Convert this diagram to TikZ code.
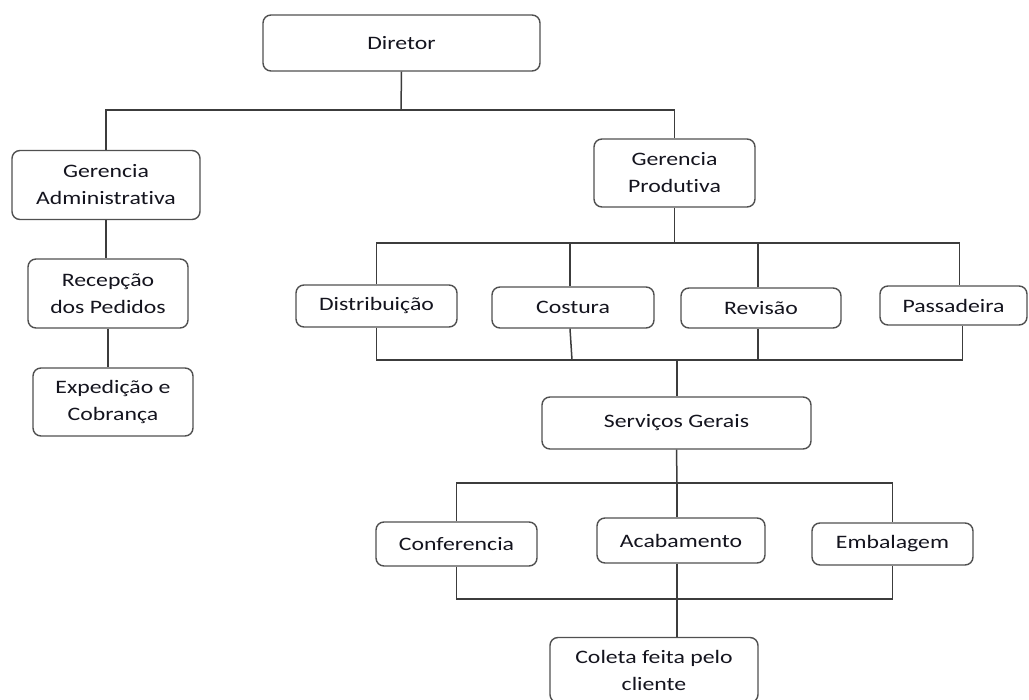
\documentclass[tikz,border=0pt]{standalone}
\usepackage{fontspec}
\setmainfont{Carlito}[FakeStretch=1.25, Ligatures={NoCommon}]
\usetikzlibrary{calc}
\definecolor{linegray}{HTML}{3C3C3C}
\definecolor{boxgray}{HTML}{505050}
\definecolor{inkcol}{HTML}{14141E}
\tikzset{
  box/.style={draw=boxgray, line width=1.4pt, rounded corners=8pt, fill=white,
    align=center, inner sep=0pt, text=inkcol,
    font=\fontsize{19}{27}\selectfont},
  link/.style={draw=linegray, line width=1.5pt}
}
\begin{document}
\begin{tikzpicture}[x=1pt, y=-1pt]
\useasboundingbox[fill=white] (0,0) rectangle (1029,700);

% organisation boxes
\node[box, minimum width=277, minimum height=56] (dir) at (401.5,43) {Diretor};
\node[box, minimum width=188, minimum height=69] (ga)  at (106,185) {Gerencia\\Administrativa};
\node[box, minimum width=161, minimum height=68] (gp)  at (674.5,173) {Gerencia\\Produtiva};
\node[box, minimum width=160, minimum height=69] (rec) at (108,293.5) {Recepção\\dos Pedidos};
\node[box, minimum width=160, minimum height=68] (exp) at (113,402) {Expedição e\\Cobrança};

\node[box, minimum width=161, minimum height=42] (dis) at (376.5,306) {Distribuição};
\node[box, minimum width=162, minimum height=41] (cos) at (573,307.5) {Costura};
\node[box, minimum width=160, minimum height=40] (rev) at (761,308) {Revisão};
\node[box, minimum width=147, minimum height=39] (pas) at (953.5,305.5) {Passadeira};

\node[box, minimum width=269, minimum height=52] (sg)  at (676.5,423) {Serviços Gerais};

\node[box, minimum width=161, minimum height=44] (con) at (456.5,544) {Conferencia};
\node[box, minimum width=168, minimum height=45] (aca) at (681,540.5) {Acabamento};
\node[box, minimum width=161, minimum height=42] (emb) at (892.5,544) {Embalagem};

\node[box, minimum width=208, minimum height=65] (col) at (654,670) {Coleta feita pelo\\cliente};

% junction points of the connector buses
\coordinate (t1) at (401,110);
\coordinate (t2) at (672,243);
\coordinate (t3) at (677,360);
\coordinate (t4) at (677,483);
\coordinate (t5) at (677,599);

% Diretor to the two managements
\draw[link] (dir.south) -- (t1);
\draw[link] (ga.north) |- (t1) -| (gp.north);

% administrative branch
\draw[link] (ga.south) -- (ga.south |- rec.north);
\draw[link] (rec.south) -- (rec.south |- exp.north);

% productive branch
\draw[link] (gp.south) -- (gp.south |- t2);
\draw[link] (dis.north) |- (t2) -| ([xshift=6pt]pas.north);
\draw[link] ([xshift=-3pt]cos.north) -- ([xshift=-3pt]cos.north |- t2);
\draw[link] ([xshift=-3pt]rev.north) -- ([xshift=-3pt]rev.north |- t2);

\draw[link] (dis.south) |- (t3) -| ([xshift=9pt]pas.south);
\draw[link] ([xshift=-3pt]cos.south) -- ([xshift=-1pt]cos.south |- t3);
\draw[link] ([xshift=-3pt]rev.south) -- ([xshift=-3pt]rev.south |- t3);
\draw[link] (t3) -- (t3 |- sg.north);

% general services
\draw[link] (sg.south) -- (t4);
\draw[link] (con.north) |- (t4) -| (emb.north);
\draw[link] ([xshift=-4pt]aca.north) -- ([xshift=-4pt]aca.north |- t4);

\draw[link] (con.south) |- (t5) -| (emb.south);
\draw[link] ([xshift=-4pt]aca.south) -- ([xshift=-4pt]aca.south |- col.north);
\end{tikzpicture}
\end{document}
